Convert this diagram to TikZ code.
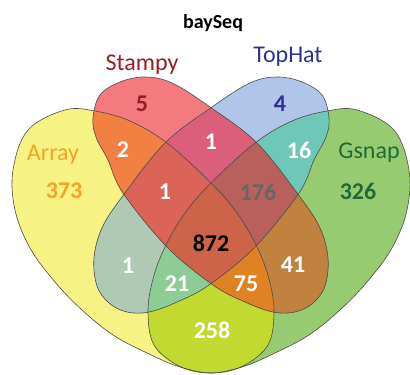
\documentclass[tikz,border=0pt]{standalone}
\usepackage{fontspec}
\setmainfont{Carlito}
\definecolor{cA}{HTML}{F6F283}
\definecolor{cS}{HTML}{F37B80}
\definecolor{cT}{HTML}{B0C5E7}
\definecolor{cG}{HTML}{97CB72}
\definecolor{cAS}{HTML}{F28043}
\definecolor{cST}{HTML}{DB5F7B}
\definecolor{cTG}{HTML}{6EC7B7}
\definecolor{cAT}{HTML}{B0C9B4}
\definecolor{cSG}{HTML}{C1813F}
\definecolor{cAG}{HTML}{C2D932}
\definecolor{cAST}{HTML}{DC6358}
\definecolor{cSTG}{HTML}{B9605C}
\definecolor{cATG}{HTML}{8ECC96}
\definecolor{cASG}{HTML}{E08124}
\definecolor{cALL}{HTML}{CD6449}
\definecolor{tArray}{HTML}{F8A227}
\definecolor{tStampy}{HTML}{9B1B24}
\definecolor{tTop}{HTML}{2E3192}
\definecolor{tGsnap}{HTML}{1F6B35}
\definecolor{tGray}{HTML}{666666}
\def\shA{plot[smooth cycle,tension=0.6] coordinates {(65,110) (95,111) (130,121) (167,143) (210,182) (237,213) (257,247) (269,279) (274,312) (268,345) (243,366) (213,373) (180,367) (147,353) (113,335) (82,310) (55,282) (30,248) (15,210) (13,170) (28,130)}}
\def\shG{plot[smooth cycle,tension=0.6] coordinates {(357,110) (327,111) (292,121) (255,143) (212,182) (185,213) (165,247) (153,279) (148,312) (154,345) (179,366) (209,373) (242,367) (275,353) (309,335) (340,310) (367,282) (392,248) (407,210) (409,170) (394,130)}}
\def\shS{plot[smooth cycle,tension=0.6] coordinates {(93,118) (100,95) (120,82) (145,77) (172,83) (210,107) (257,143) (300,197) (320,228) (328,258) (325,286) (313,303) (295,312) (273,312) (245,302) (213,285) (167,247) (123,193) (108,160) (96,137)}}
\def\shT{plot[smooth cycle,tension=0.6] coordinates {(329,118) (322,95) (302,82) (277,77) (250,83) (212,107) (165,143) (122,197) (102,228) (94,258) (97,286) (109,303) (127,312) (149,312) (177,302) (209,285) (255,247) (299,193) (314,160) (326,137)}}
\tikzset{
  outline/.style={draw=black!70, line width=0.6pt},
  setname/.style={font=\fontsize{24}{24}\selectfont, anchor=base, inner sep=0pt},
  count/.style={font=\fontsize{24}{24}\selectfont\bfseries, text=white, inner sep=0pt},
}
\begin{document}
\begin{tikzpicture}[x=1pt,y=-1pt]
\useasboundingbox (0,0) rectangle (410,375);
% single sets
\fill[cA] \shA;
\fill[cG] \shG;
\fill[cS] \shS;
\fill[cT] \shT;
% pairs
\begin{scope}\clip \shA; \fill[cAS] \shS; \end{scope}
\begin{scope}\clip \shA; \fill[cAT] \shT; \end{scope}
\begin{scope}\clip \shA; \fill[cAG] \shG; \end{scope}
\begin{scope}\clip \shS; \fill[cST] \shT; \end{scope}
\begin{scope}\clip \shS; \fill[cSG] \shG; \end{scope}
\begin{scope}\clip \shT; \fill[cTG] \shG; \end{scope}
% triples
\begin{scope}\clip \shA; \clip \shS; \fill[cAST] \shT; \end{scope}
\begin{scope}\clip \shA; \clip \shS; \fill[cASG] \shG; \end{scope}
\begin{scope}\clip \shA; \clip \shT; \fill[cATG] \shG; \end{scope}
\begin{scope}\clip \shS; \clip \shT; \fill[cSTG] \shG; \end{scope}
% all four
\begin{scope}\clip \shA; \clip \shS; \clip \shT; \fill[cALL] \shG; \end{scope}
% outlines
\draw[outline] \shA;
\draw[outline] \shG;
\draw[outline] \shS;
\draw[outline] \shT;
% title and set names
\node[font=\fontsize{20}{20}\selectfont\bfseries, anchor=base, inner sep=0pt] (title) at (213,28) {baySeq};
\node[setname, text=tStampy] (nS) at (142,70) {Stampy};
\node[setname, text=tTop] (nT) at (288,62) {TopHat};
\node[setname, text=tArray] (nA) at (53,160) {Array};
\node[setname, text=tGsnap] (nG) at (369,158) {Gsnap};
% counts
\node[count, text=tArray] (vA) at (64,191) {373};
\node[count, text=tGsnap] (vG) at (358,191) {326};
\node[count, text=tStampy] (vS) at (142,104) {5};
\node[count, text=tTop] (vT) at (280,104) {4};
\node[count] (vAS) at (123,150) {2};
\node[count] (vST) at (211,142) {1};
\node[count] (vTG) at (299,150) {16};
\node[count] (vAST) at (165,192) {1};
\node[count, text=tGray] (vSTG) at (258,192) {176};
\node[count, text=black] (vALL) at (211,243) {872};
\node[count] (vAT) at (128,266) {1};
\node[count] (vSG) at (293,265) {41};
\node[count] (vATG) at (177,284) {21};
\node[count] (vASG) at (246,284) {75};
\node[count] (vAG) at (212,330) {258};
\end{tikzpicture}
\end{document}
